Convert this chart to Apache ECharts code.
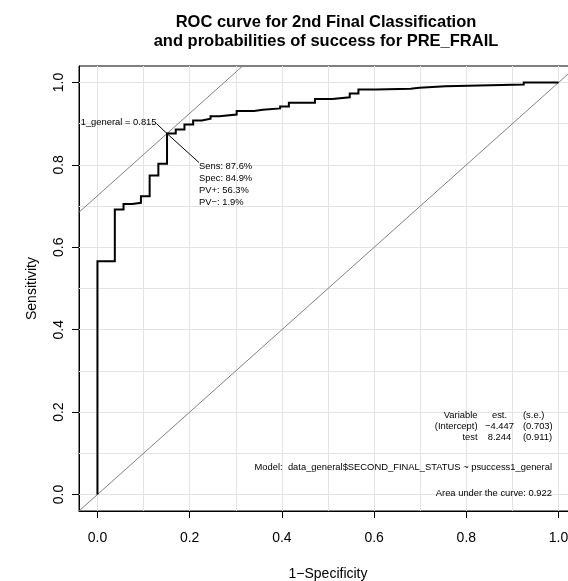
<!DOCTYPE html>
<html>
<head>
<meta charset="utf-8">
<script src="https://cdn.jsdelivr.net/npm/echarts@6/dist/echarts.min.js"></script>
<style>
  html, body { margin: 0; padding: 0; background: #ffffff; }
  #chart { width: 568px; height: 581px; }
</style>
</head>
<body>
<div id="chart"></div>
<script>
// ROC curve: false positive rate (1 - specificity) at each jump and sensitivity after it
const rocFpr = [0, 0, 0.0377, 0.0566, 0.0755, 0.0943, 0.1132, 0.1321, 0.1509, 0.1698, 0.1887,
  0.2075, 0.2264, 0.2453, 0.2642, 0.3019, 0.3396, 0.3585, 0.3962, 0.4151, 0.4717, 0.5094,
  0.5472, 0.5660, 0.6038, 0.6792, 0.6981, 0.7547, 0.9245, 1.0];
const rocTpr = [0, 0.566, 0.692, 0.705, 0.708, 0.724, 0.774, 0.803, 0.876, 0.886, 0.898,
  0.908, 0.912, 0.918, 0.922, 0.931, 0.934, 0.937, 0.942, 0.951, 0.960, 0.964,
  0.973, 0.983, 0.985, 0.987, 0.991, 0.995, 1.0, 1.0];

// optimal cut-off point
const optFpr = 0.1509;
const optTpr = 0.876;
const cutoffLabel = '1_general = 0.815';
const cutoffStats = ['Sens: 87.6%', 'Spec: 84.9%', 'PV+: 56.3%', 'PV\u2212: 1.9%'];

// axes
const axisTicks = [0, 0.2, 0.4, 0.6, 0.8, 1.0];
const gridTicks = [0, 0.1, 0.2, 0.3, 0.4, 0.5, 0.6, 0.7, 0.8, 0.9, 1.0];

// logistic model summary
const coefHeader = ['Variable', 'est.', '(s.e.)'];
const coefIntercept = ['(Intercept)', '\u22124.447', '(0.703)'];
const coefTest = ['test', '8.244', '(0.911)'];
const modelText = 'Model:  data_general$SECOND_FINAL_STATUS ~ psuccess1_general';
const aucText = 'Area under the curve: 0.922';

const titleLines = ['ROC curve for 2nd Final Classification',
  'and probabilities of success for PRE_FRAIL'];

const FONT = '"Liberation Sans", Arial, Helvetica, sans-serif';
const LO = -0.04, HI = 1.04;

// staircase path: rise at each jump, then run flat to the next one
const rocPath = [[rocFpr[0], rocTpr[0]]];
for (let i = 1; i < rocFpr.length; i++) {
  rocPath.push([rocFpr[i], rocTpr[i - 1]]);
  rocPath.push([rocFpr[i], rocTpr[i]]);
}
const tangentIcpt = optTpr - optFpr;

const chart = echarts.init(document.getElementById('chart'), null, { renderer: 'canvas' });

const gridLineMarks = [];
gridTicks.forEach(v => { gridLineMarks.push({ xAxis: v }); gridLineMarks.push({ yAxis: v }); });

const option = {
  animation: false,
  backgroundColor: '#ffffff',
  textStyle: { fontFamily: FONT },
  grid: {
    left: 79, top: 66, right: -9, bottom: 70,
    outerBoundsMode: 'none', containLabel: false,
    show: true, borderColor: '#000000', borderWidth: 1, backgroundColor: 'transparent'
  },
  xAxis: {
    type: 'value', min: LO, max: HI,
    name: '1\u2212Specificity', nameLocation: 'middle', nameGap: 56,
    nameTextStyle: { fontSize: 14, color: '#000', fontFamily: FONT },
    axisLine: { show: true, onZero: false, lineStyle: { color: '#000', width: 1 } },
    axisTick: { show: true, customValues: axisTicks, length: 7, lineStyle: { color: '#000', width: 1 } },
    axisLabel: { customValues: axisTicks, formatter: v => v.toFixed(1), fontSize: 14,
      color: '#000', margin: 20, fontFamily: FONT, hideOverlap: false },
    splitLine: { show: false }
  },
  yAxis: {
    type: 'value', min: LO, max: HI,
    name: 'Sensitivity', nameLocation: 'middle', nameGap: 40,
    nameTextStyle: { fontSize: 14, color: '#000', fontFamily: FONT },
    axisLine: { show: true, onZero: false, lineStyle: { color: '#000', width: 1 } },
    axisTick: { show: true, customValues: axisTicks, length: 7, lineStyle: { color: '#000', width: 1 } },
    axisLabel: { customValues: axisTicks, formatter: v => v.toFixed(1), fontSize: 14,
      color: '#000', margin: 13, rotate: 90, fontFamily: FONT },
    splitLine: { show: false }
  },
  series: [
    {
      // light reference grid every 0.1, kept underneath everything else
      type: 'line', data: [], silent: true, z: 1,
      markLine: {
        z: 1, silent: true, symbol: ['none', 'none'], label: { show: false },
        lineStyle: { color: '#e3e3e3', type: 'solid', width: 1 },
        emphasis: { disabled: true },
        data: gridLineMarks, animation: false
      }
    },
    {
      // chance diagonal
      type: 'line', data: [[LO, LO], [HI, HI]], showSymbol: false, symbol: 'none',
      silent: true, z: 6, lineStyle: { color: '#808080', width: 1 }
    },
    {
      // slope-1 line through the optimal cut-off
      type: 'line', data: [[LO, tangentIcpt + LO], [HI - tangentIcpt, HI]], showSymbol: false,
      symbol: 'none', silent: true, z: 6, lineStyle: { color: '#808080', width: 1 }
    },
    {
      type: 'line', data: rocPath, showSymbol: false, symbol: 'none',
      silent: true, z: 7, lineStyle: { color: '#000000', width: 2, join: 'miter' }
    }
  ]
};
chart.setOption(option);

// annotations placed around the optimal point
const p = chart.convertToPixel({ gridIndex: 0 }, [optFpr, optTpr]);
const smallFont = 9.4;
const txt = (x, y, text, align, size, weight) => ({
  type: 'text', x: x, y: y, silent: true, z: 10,
  style: { text: text, x: 0, y: 0, fill: '#000', align: align, verticalAlign: 'middle',
    font: (weight || 'normal') + ' ' + size + 'px ' + FONT }
});

const labelEnd = [p[0] - 10.5, p[1] - 10];
const statsStart = [p[0] + 32, p[1] + 29];
const elements = [
  { type: 'polyline', silent: true, z: 9,
    shape: { points: [labelEnd, p, statsStart] },
    style: { stroke: '#000', lineWidth: 1, fill: null } },
  txt(p[0] - 10.5, p[1] - 11.5, cutoffLabel, 'right', smallFont)
];
cutoffStats.forEach((s, i) => elements.push(txt(statsStart[0], statsStart[1] + 4 + i * 11.8, s, 'left', smallFont)));

// title
elements.push(txt(326, 22, titleLines[0], 'center', 16.5, 'bold'));
elements.push(txt(326, 41, titleLines[1], 'center', 16.5, 'bold'));

// model summary
[coefHeader, coefIntercept, coefTest].forEach((row, i) => {
  const y = 415.5 + i * 11;
  elements.push(txt(477.5, y, row[0], 'right', smallFont));
  elements.push(txt(499.5, y, row[1], 'center', smallFont));
  elements.push(txt(523, y, row[2], 'left', smallFont));
});
elements.push(txt(552, 467.3, modelText, 'right', smallFont));
elements.push(txt(552, 493.3, aucText, 'right', smallFont));

chart.setOption({ graphic: { elements: elements } });
</script>
</body>
</html>
